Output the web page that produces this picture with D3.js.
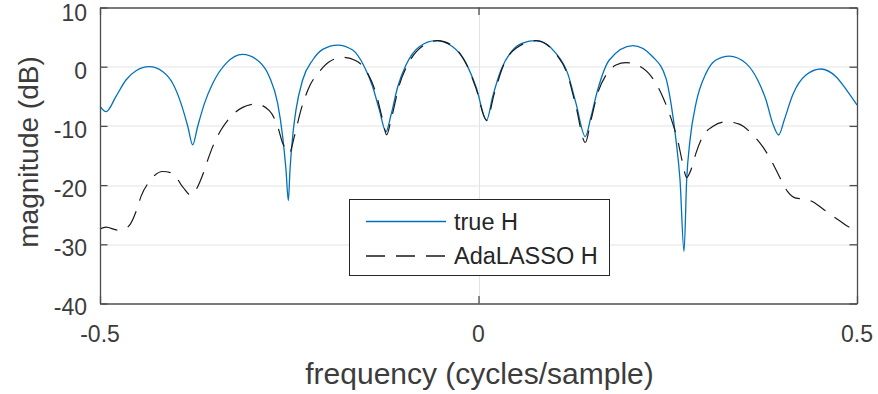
<!DOCTYPE html>
<html lang="en">
<head>
<meta charset="UTF-8"/>
<title>magnitude response</title>
<script src="https://d3js.org/d3.v7.min.js"></script>
<style>
    body { margin: 0; background: #fff; }
    text { font-family: "Liberation Sans", Arial, sans-serif; fill: #3c3c3c; }
    .grid line { stroke: #e3e3e3; stroke-width: 1px; }
    .tick-label { font-size: 23px; }
    .title { font-size: 28px; }
    .xtitle { font-size: 30px; }
    .legend text { font-size: 23.5px; fill: #262626; }
</style>
</head>
<body>
<div id="chart"></div>
<script>
// frequency axis (cycles/sample) and magnitude (dB)
var xTicks = [-0.5, 0, 0.5];
var yTicks = [10, 0, -10, -20, -30, -40];

var trueF = [-0.5, -0.492, -0.479, -0.4657, -0.4524, -0.4348, -0.417, -0.404, -0.393, -0.384,
    -0.3776, -0.371, -0.362, -0.351, -0.3335, -0.3115, -0.2896, -0.2763, -0.2653, -0.2587,
    -0.2543, -0.2512, -0.249, -0.2455, -0.2411, -0.2323, -0.219, -0.2058, -0.186, -0.1662,
    -0.1508, -0.1398, -0.131, -0.1222, -0.1156, -0.1067, -0.0958, -0.0782, -0.0561, -0.0341,
    -0.0165, -0.0033, 0.0108, 0.0187, 0.0297, 0.0451, 0.058, 0.076, 0.1024, 0.1178, 0.1288,
    0.1411, 0.1486, 0.1574, 0.1728, 0.2037, 0.2301, 0.2477, 0.2543, 0.2609, 0.2662,
    0.2715, 0.275, 0.2794, 0.2873, 0.3005, 0.3137, 0.3313, 0.3534, 0.3688, 0.3798,
    0.3886, 0.3966, 0.4039, 0.415, 0.4326, 0.4524, 0.4723, 0.4877, 0.5];
var trueDb = [-6.7, -7.6, -5.06, -2.25, -0.68, 0, -0.84, -2.8, -6.2, -10.1,
    -13.2, -10.1, -6.2, -2.8, 0.56, 2.08, 0.84, -1.69, -6.2, -11.8,
    -17.4, -22.6, -17.4, -11.8, -7.3, -2.25, 1.13, 2.93, 3.66, 2.81,
    0, -3.38, -7.3, -10.97, -8.16, -3.38, 0.28, 3.38, 4.39, 3.38,
    0.56, -3.4, -9.0, -5.06, -0.56, 2.81, 4.0, 4.39, 2.25, -1.13, -6.2,
    -11.8, -8.44, -3.94, 1.13, 3.55, 1.69, -1.97, -6.2, -12.4, -19.1,
    -31.2, -19.1, -12.4, -6.2, -1.13, 1.13, 1.8, 0.56, -2.25, -5.63,
    -9.57, -11.54, -9.0, -4.78, -1.41, -0.39, -1.69, -4.22, -6.47];

var adaF = [-0.5, -0.492, -0.4766, -0.4626, -0.4516, -0.4458, -0.4348, -0.4172, -0.404, -0.3908,
    -0.3798, -0.3732, -0.3653, -0.3578, -0.3511, -0.3402, -0.3292, -0.3115, -0.2939, -0.2763,
    -0.2653, -0.2587, -0.2521, -0.25, -0.2433, -0.2345, -0.2235, -0.2103, -0.1971, -0.1794,
    -0.1618, -0.1464, -0.1354, -0.1266, -0.1213, -0.1156, -0.1046, -0.0914, -0.0737, -0.0539,
    -0.0341, -0.0143, -0.0033, 0.0108, 0.0209, 0.0341, 0.0495, 0.076, 0.1024, 0.1178,
    0.1288, 0.1411, 0.1486, 0.1574, 0.1684, 0.1816, 0.1948, 0.2124, 0.2301, 0.2433,
    0.2565, 0.2631, 0.2697, 0.275, 0.2807, 0.2873, 0.2961, 0.3094, 0.3269, 0.3445,
    0.3622, 0.3754, 0.3886, 0.3996, 0.4084, 0.4194, 0.4326, 0.4415, 0.4568, 0.4766,
    0.4921, 0.5];
var adaDb = [-27.4, -27.1, -27.6, -27.0, -24.2, -21.9, -19.4, -17.7, -18.0, -20.3,
    -21.7, -20.8, -18.6, -15.8, -13.5, -10.7, -8.72, -6.87, -6.3, -7.43,
    -10.1, -12.9, -14.3, -14.6, -11.8, -7.3, -3.38, -0.84, 0.84, 1.58,
    1.0, -1.13, -4.5, -9.0, -11.5, -9.0, -3.1, 0.84, 3.49, 4.39,
    3.49, 0, -3.66, -9.1, -4.5, 0.56, 3.1, 4.39, 2.14, -1.41,
    -6.75, -12.8, -9.0, -4.5, -1.41, 0.28, 0.68, 0.11, -1.97, -5.06,
    -9.57, -12.4, -16.3, -18.7, -17.4, -14.6, -11.8, -10.1, -9.3, -9.7,
    -11.5, -13.5, -16.3, -19.1, -21.1, -22.2, -22.4, -22.8, -24.2, -26.0,
    -27.2, -27.3];

var seriesNames = ["true H", "AdaLASSO H"];

var W = 878, H = 394;
var margin = {top: 7.5, right: 21, bottom: 90.5, left: 100},
    width = W - margin.left - margin.right,
    height = H - margin.top - margin.bottom;

var svg = d3.select("#chart").append("svg")
    .attr("width", W)
    .attr("height", H);

var g = svg.append("g")
    .attr("transform", "translate(" + margin.left + "," + margin.top + ")");

var x = d3.scaleLinear().domain([-0.5, 0.5]).range([0, width]);
var y = d3.scaleLinear().domain([-40, 10]).range([height, 0]);

// grid
var grid = g.append("g").attr("class", "grid");
grid.selectAll(".gy").data(yTicks.filter(function (d) { return d > -40 && d < 10; }))
    .enter().append("line")
    .attr("x1", 0).attr("x2", width)
    .attr("y1", function (d) { return Math.round(y(d)) + 0.5; })
    .attr("y2", function (d) { return Math.round(y(d)) + 0.5; });
grid.selectAll(".gx").data(xTicks.filter(function (d) { return d > -0.5 && d < 0.5; }))
    .enter().append("line")
    .attr("y1", 0).attr("y2", height)
    .attr("x1", function (d) { return Math.round(x(d)) + 0.5; })
    .attr("x2", function (d) { return Math.round(x(d)) + 0.5; });

// lines
var line = d3.line()
    .x(function (d) { return x(d[0]); })
    .y(function (d) { return y(d[1]); })
    .curve(d3.curveMonotoneX);

g.append("path")
    .datum(d3.zip(trueF, trueDb))
    .attr("fill", "none")
    .attr("stroke", "#0072bd")
    .attr("stroke-width", 1.3)
    .attr("d", line);

g.append("path")
    .datum(d3.zip(adaF, adaDb))
    .attr("fill", "none")
    .attr("stroke", "#1a1a1a")
    .attr("stroke-width", 1.2)
    .attr("stroke-dasharray", "18,11")
    .attr("d", line);

// axes box with inward ticks
var tl = 7.5;
var axisColor = "#4d4d4d";
function inner(axis) { return axis.tickSizeInner(-tl).tickSizeOuter(0).tickFormat(""); }

var axB = g.append("g").attr("transform", "translate(0," + height + ")")
    .call(inner(d3.axisBottom(x).tickValues(xTicks)));
var axT = g.append("g").call(inner(d3.axisTop(x).tickValues(xTicks)));
var axL = g.append("g").call(inner(d3.axisLeft(y).tickValues(yTicks)));
var axR = g.append("g").attr("transform", "translate(" + width + ",0)")
    .call(inner(d3.axisRight(y).tickValues(yTicks)));
[axB, axT, axL, axR].forEach(function (a) {
    a.selectAll("path").attr("stroke", axisColor).attr("stroke-width", 1.3);
    a.selectAll("line").attr("stroke", axisColor).attr("stroke-width", 1.3);
});

// tick labels
g.selectAll(".xl").data(xTicks).enter().append("text")
    .attr("class", "tick-label")
    .attr("x", function (d) { return x(d); })
    .attr("y", height + 38)
    .attr("text-anchor", "middle")
    .text(function (d) { return d; });

// top label nudged down a little so it stays inside the page
g.selectAll(".yl").data(yTicks).enter().append("text")
    .attr("class", "tick-label")
    .attr("x", -13)
    .attr("y", function (d) { return Math.max(y(d), 1.5); })
    .attr("dy", "0.52em")
    .attr("text-anchor", "end")
    .text(function (d) { return d; });

// axis titles
svg.append("text")
    .attr("class", "xtitle")
    .attr("x", margin.left + x(0) + 1)
    .attr("y", 384)
    .attr("text-anchor", "middle")
    .text("frequency (cycles/sample)");

svg.append("text")
    .attr("class", "title")
    .attr("transform", "translate(38,152) rotate(-90)")
    .attr("text-anchor", "middle")
    .text("magnitude (dB)");

// legend
var leg = svg.append("g").attr("class", "legend").attr("transform", "translate(349.5,199.5)");
leg.append("rect")
    .attr("width", 260).attr("height", 76)
    .attr("fill", "#fff")
    .attr("stroke", "#262626")
    .attr("stroke-width", 1);
var styles = [{c: "#0072bd", dash: null}, {c: "#1a1a1a", dash: "19,11"}];
seriesNames.forEach(function (name, i) {
    var cy = 22 + i * 34.5;
    leg.append("line")
        .attr("x1", 16.5).attr("x2", 96.5)
        .attr("y1", cy).attr("y2", cy)
        .attr("stroke", styles[i].c)
        .attr("stroke-width", 1.3)
        .attr("stroke-dasharray", styles[i].dash);
    leg.append("text")
        .attr("x", 104.5)
        .attr("y", cy)
        .attr("dy", "0.36em")
        .text(name);
});
</script>
</body>
</html>
